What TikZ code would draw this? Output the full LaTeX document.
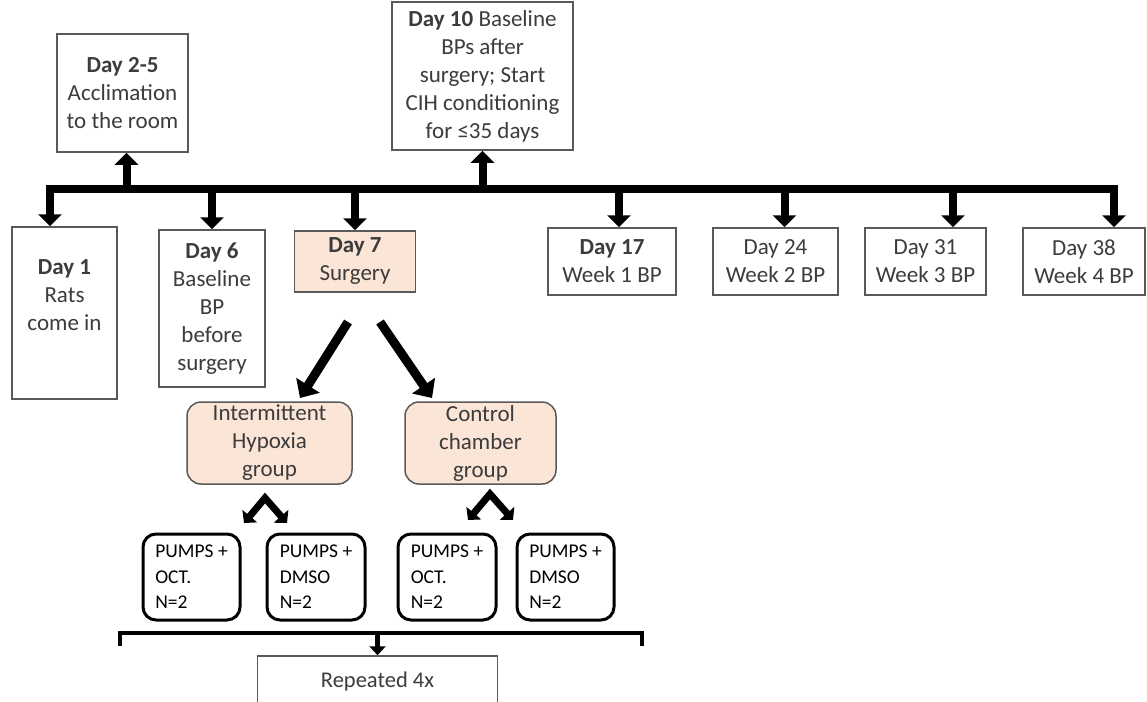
\documentclass[tikz,border=0pt]{standalone}
\usepackage{fontspec}
\setmainfont{Carlito}
\usetikzlibrary{arrows.meta,positioning}
\definecolor{peach}{RGB}{251,229,214}
\definecolor{boxline}{RGB}{89,89,89}
\definecolor{txt}{RGB}{60,60,60}

\tikzset{
  daybox/.style={draw=boxline, line width=1.5pt, fill=white, text=txt, align=center,
    inner sep=0pt, font=\fontsize{23}{28}\selectfont},
  surgbox/.style={daybox, fill=peach},
  groupbox/.style={surgbox, rounded corners=14pt},
  pumpbox/.style={draw=black, line width=3pt, rounded corners=13pt, align=left,
    inner sep=0pt, text=black, font=\fontsize{19.5}{25.5}\selectfont},
  tl/.style={line width=8pt, -{Triangle[width=23pt,length=12pt]}},
  bigarrow/.style={line width=9pt, -{Triangle[width=27pt,length=15pt]}},
  chev/.style={line width=7pt, miter limit=10, {Triangle[width=19pt,length=9pt]}-{Triangle[width=19pt,length=9pt]}},
  smallarrow/.style={line width=5pt, -{Triangle[width=16pt,length=9pt]}}
}

\begin{document}
\begin{tikzpicture}[x=1pt,y=-1pt]
  \useasboundingbox (0,0) rectangle (1147,701);

  % timeline bar
  \coordinate (barl) at (46,189);
  \coordinate (barr) at (1118,189);
  \draw[line width=8pt] (barl) -- (barr);

  % boxes above the bar
  \node[daybox, minimum width=131pt, minimum height=118pt] (d25) at (122.5,93)
    {\textbf{Day 2-5}\\Acclimation\\to the room};
  \node[daybox, minimum width=181pt, minimum height=148pt] (d10) at (482.5,76)
    {\textbf{Day 10} Baseline\\BPs after\\surgery; Start\\CIH conditioning\\for ≤35 days};

  % boxes below the bar
  \node[daybox, minimum width=105pt, minimum height=172pt] (d1) at (64.5,313)
    {\textbf{Day 1}\\Rats\\come in\\\strut};
  \node[daybox, minimum width=106pt, minimum height=157pt] (d6) at (212,308.5)
    {\textbf{Day 6}\\Baseline\\BP\\before\\surgery};
  \node[surgbox, minimum width=121pt, minimum height=61pt] (d7) at (355,261.5)
    {\textbf{Day 7}\\Surgery};
  \node[daybox, minimum width=128pt, minimum height=67pt] (d17) at (612,261.5)
    {\textbf{Day 17}\\Week 1 BP};
  \node[daybox, minimum width=125pt, minimum height=67pt] (d24) at (775.5,261.5)
    {Day 24\\Week 2 BP};
  \node[daybox, minimum width=121pt, minimum height=67pt] (d31) at (925.5,261.5)
    {Day 31\\Week 3 BP};
  \node[daybox, minimum width=122pt, minimum height=67pt] (d38) at (1084,261.5)
    {Day 38\\Week 4 BP};

  % arrows from the bar
  \draw[tl] ([xshift=4pt]d25.south |- barl) ++(0,-4) -- ([xshift=4pt]d25.south);
  \draw[tl] (d10.south |- barl) ++(0,-4) -- (d10.south);
  \draw[tl] ([xshift=-14.5pt]d1.north |- barl) ++(0,-4) -- ([xshift=-14.5pt]d1.north);
  \draw[tl] (d6.north |- barl) -- (d6.north);
  \draw[tl] (d7.north |- barl) -- (d7.north);
  \draw[tl] ([xshift=7pt]d17.north |- barl) -- ([xshift=7pt]d17.north);
  \draw[tl] ([xshift=9pt]d24.north |- barl) -- ([xshift=9pt]d24.north);
  \draw[tl] ([xshift=27.5pt]d31.north |- barl) -- ([xshift=27.5pt]d31.north);
  \draw[tl] ([xshift=-4pt]barr) ++(0,-4) -- ([xshift=-4pt]barr |- d38.north);

  % groups after surgery
  \node[groupbox, minimum width=165pt, minimum height=82pt] (ih) at (269.5,443)
    {Intermittent\\Hypoxia\\group};
  \node[groupbox, minimum width=151pt, minimum height=82pt] (ctrl) at (480.5,443)
    {Control\\chamber\\group};

  \coordinate (ihtop) at (348,322);
  \coordinate (cttop) at (380,322);
  \draw[bigarrow] (ihtop) -- (300,398);
  \draw[bigarrow] (cttop) -- (432,398);

  % treatment boxes
  \node[pumpbox, minimum width=97pt, minimum height=86pt] (p1) at (191.5,577)
    {PUMPS +\\OCT.\\N=2};
  \node[pumpbox, minimum width=98pt, minimum height=86pt] (p2) at (316,577)
    {PUMPS +\\DMSO\\N=2};
  \node[pumpbox, minimum width=98pt, minimum height=86pt] (p3) at (447,577)
    {PUMPS +\\OCT.\\N=2};
  \node[pumpbox, minimum width=97pt, minimum height=86pt] (p4) at (565.5,577)
    {PUMPS +\\DMSO\\N=2};

  % split arrows under the groups
  \coordinate (iha) at (265,498);
  \coordinate (cta) at (490,494);
  \draw[chev] (244,523) -- (iha) -- (287,523);
  \draw[chev] (468,520) -- (cta) -- (513,520);

  % bracket and repeat
  \coordinate (brl) at (120,633);
  \coordinate (brr) at (642,633);
  \draw[line width=4.5pt] ([yshift=-13pt]brl) -- (brl) -- (brr) -- ([yshift=-13pt]brr);
  \node[daybox, minimum width=240pt, minimum height=50pt, font=\fontsize{22.5}{27}\selectfont] (rep) at (377.5,681)
    {Repeated 4x};
  \draw[smallarrow] (rep.north |- brl) -- (rep.north);
\end{tikzpicture}
\end{document}
